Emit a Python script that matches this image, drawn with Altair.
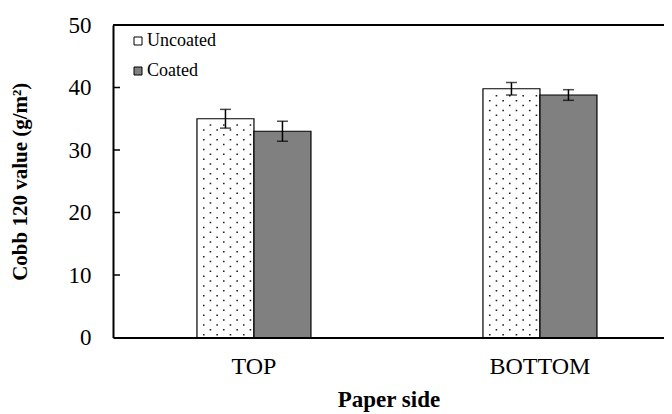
import altair as alt
import pandas as pd

sides = ["TOP", "BOTTOM"]
series = ["Uncoated", "Coated"]
uncoated_vals = [35.0, 39.8]
coated_vals = [33.0, 38.8]
uncoated_err = [1.5, 1.0]
coated_err = [1.6, 0.85]
y_ticks = [0, 10, 20, 30, 40, 50]
inner_ticks = [10, 20, 30, 40]

rows = []
for i, s in enumerate(sides):
    rows.append({"side": s, "series": "Uncoated", "value": uncoated_vals[i], "err": uncoated_err[i]})
    rows.append({"side": s, "series": "Coated", "value": coated_vals[i], "err": coated_err[i]})
df = pd.DataFrame(rows)
df["lo"] = df["value"] - df["err"]
df["hi"] = df["value"] + df["err"]

# dotted texture rows for the uncoated bars
dot_rows = []
for i, s in enumerate(sides):
    k = 0
    while True:
        yv = 0.45 + 0.78 * k
        if yv > uncoated_vals[i] - 0.35:
            break
        dot_rows.append({"side": s, "series": "Uncoated", "y": yv, "parity": k % 2})
        k += 1
dots_df = pd.DataFrame(dot_rows)

SERIF = "Liberation Serif"
HALF = 28.5  # half bar width in px, used to scale the custom dot-row symbol


def dot_row_path(offsets, r=0.8):
    parts = []
    for o in offsets:
        a = (o - r) / HALF
        b = -r / HALF
        w = 2 * r / HALF
        parts.append(f"M{a:.4f},{b:.4f}h{w:.4f}v{w:.4f}h{-w:.4f}Z")
    return "".join(parts)


x_enc = alt.X(
    "side:N",
    sort=sides,
    scale=alt.Scale(domain=sides, paddingInner=0.6014, paddingOuter=0.264, align=0.556),
    axis=alt.Axis(
        title="Paper side",
        labelAngle=0,
        ticks=False,
        domainColor="black",
        domainWidth=2,
        labelFont=SERIF,
        labelFontSize=24,
        labelColor="black",
        labelPadding=17,
        titleFont=SERIF,
        titleFontSize=23,
        titleFontWeight="bold",
        titleColor="black",
        titlePadding=10,
    ),
)
xoff_enc = alt.XOffset(
    "series:N", scale=alt.Scale(domain=series, paddingInner=0, paddingOuter=0)
)
y_scale = alt.Scale(domain=[0, 50], nice=False)

base = alt.Chart(df)

bars = base.mark_bar(stroke="black", strokeWidth=1.2).encode(
    x=x_enc,
    xOffset=xoff_enc,
    y=alt.Y(
        "value:Q",
        scale=y_scale,
        axis=alt.Axis(
            title="Cobb 120 value (g/m²)",
            values=y_ticks,
            grid=False,
            ticks=False,
            domainColor="black",
            domainWidth=2,
            labelFont=SERIF,
            labelFontSize=23,
            labelColor="black",
            labelPadding=22,
            titleFont=SERIF,
            titleFontSize=21,
            titleFontWeight="bold",
            titleColor="black",
            titlePadding=38,
        ),
    ),
    color=alt.Color(
        "series:N",
        scale=alt.Scale(domain=series, range=["white", "#808080"]),
        legend=alt.Legend(
            orient="none",
            legendX=16,
            legendY=7,
            title=None,
            symbolType="square",
            symbolSize=64,
            symbolStrokeColor="black",
            symbolStrokeWidth=1,
            labelFont=SERIF,
            labelFontSize=18,
            labelColor="black",
            rowPadding=12,
            labelOffset=0,
        ),
    ),
)

row_a = [-21.7, -8.3, 5.0, 18.3]
row_b = [-15.0, -1.7, 11.7, 25.0]
dot_layers = []
for parity, offs in [(0, row_a), (1, row_b)]:
    dot_layers.append(
        alt.Chart(dots_df)
        .transform_filter(alt.datum.parity == parity)
        .mark_point(
            shape=dot_row_path(offs),
            size=(2 * HALF) ** 2,
            filled=True,
            color="#222222",
            opacity=1,
            strokeWidth=0,
        )
        .encode(x=alt.X("side:N", sort=sides), xOffset=alt.XOffset("series:N"), y=alt.Y("y:Q"))
    )

err_rule = base.mark_rule(color="black", strokeWidth=1.5).encode(
    x=alt.X("side:N", sort=sides), xOffset=alt.XOffset("series:N"), y="lo:Q", y2="hi:Q"
)
cap_lo = base.mark_tick(color="black", size=11, thickness=1.5).encode(
    x=alt.X("side:N", sort=sides), xOffset=alt.XOffset("series:N"), y="lo:Q"
)
cap_hi = base.mark_tick(color="black", size=11, thickness=1.5).encode(
    x=alt.X("side:N", sort=sides), xOffset=alt.XOffset("series:N"), y="hi:Q"
)

tick_marks = alt.Chart(pd.DataFrame({"t": inner_ticks})).mark_rule(
    color="black", strokeWidth=1.5
).encode(y="t:Q", x=alt.value(0), x2=alt.value(7))

top_border = alt.Chart(pd.DataFrame({"t": [50]})).mark_rule(
    color="black", strokeWidth=2
).encode(y="t:Q")

chart = (
    alt.layer(bars, *dot_layers, err_rule, cap_lo, cap_hi, tick_marks, top_border)
    .properties(
        width=551,
        height=312.5,
        autosize=alt.AutoSizeParams(type="none"),
        padding={"left": 105, "top": 17, "right": 0, "bottom": 76},
        background="white",
    )
    .configure(font=SERIF)
    .configure_view(stroke=None)
    .configure_axis(labelFont=SERIF, titleFont=SERIF)
    .configure_legend(labelFont=SERIF)
)

chart.save("out.html", embed_options={"renderer": "svg", "actions": False})
